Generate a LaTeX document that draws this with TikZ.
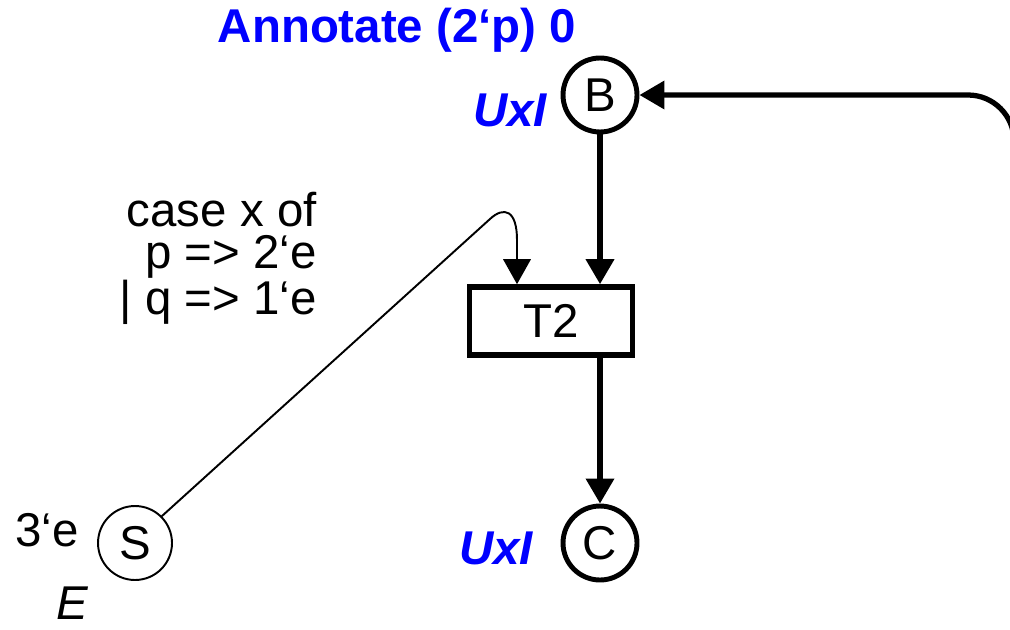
\documentclass[tikz,border=0pt]{standalone}
\usepackage{fontspec}
\setmainfont{Liberation Sans}
\usepackage{xcolor}
\usepackage{tikz}
\usetikzlibrary{arrows.meta, positioning, calc}
\definecolor{annblue}{RGB}{0,0,255}

\begin{document}
\begin{tikzpicture}[
  x=0.02cm, y=-0.02cm,
  every node/.style={font=\fontsize{27}{24}\selectfont},
  place/.style={circle, draw=black, line width=2.8pt, minimum size=1.48cm, inner sep=0pt},
  thinplace/.style={circle, draw=black, line width=1.1pt, minimum size=1.48cm, inner sep=0pt},
  trans/.style={rectangle, draw=black, line width=3.2pt, minimum width=3.26cm,
                minimum height=1.36cm, inner sep=0pt},
  ann/.style={text=annblue, font=\fontsize{27}{24}\selectfont\bfseries},
  typ/.style={text=annblue, font=\fontsize{27}{24}\selectfont\bfseries\itshape},
  arc/.style={-{Triangle[length=0.5cm, width=0.55cm]}, line width=3pt},
  tarc/.style={-{Triangle[length=0.5cm, width=0.55cm]}, line width=1.1pt},
]
\useasboundingbox (0,0) rectangle (1010,629);

% Places
\node[place] (B) at (600, 95) {B};
\node[place] (C) at (600,543) {C};
\node[thinplace] (S) at (135,543) {S};

% Transition
\node[trans] (T2) at (551,321) {T2};

% Inscriptions
\node[ann] (annot) at (397, 30) {Annotate (2‘p) 0};
\node[typ] (typB) at (510,110) {UxI};
\node[typ] (typC) at (496,548) {UxI};
\node (initS) at (47,530) {3‘e};
\node[font=\fontsize{27}{24}\selectfont\itshape] (colS) at (72,603) {E};
\node[anchor=east, align=right, inner sep=0pt] (expr) at (317,258)
  {case x of\\ p => 2‘e\\ | q => 1‘e};

% Arcs
\coordinate (bend) at (517,240);
\coordinate (ret)  at (1014,240);
\draw[arc] (B.south) -- (B.south |- T2.north);
\draw[arc] (T2.south -| C) -- (C.north);
\draw[tarc] (S.45) -- (490,219) .. controls (504,206) and (517,210) .. (bend)
  -- (bend |- T2.north);
\draw[arc, rounded corners=0.92cm] (ret) |- (B.east);

\end{tikzpicture}
\end{document}
